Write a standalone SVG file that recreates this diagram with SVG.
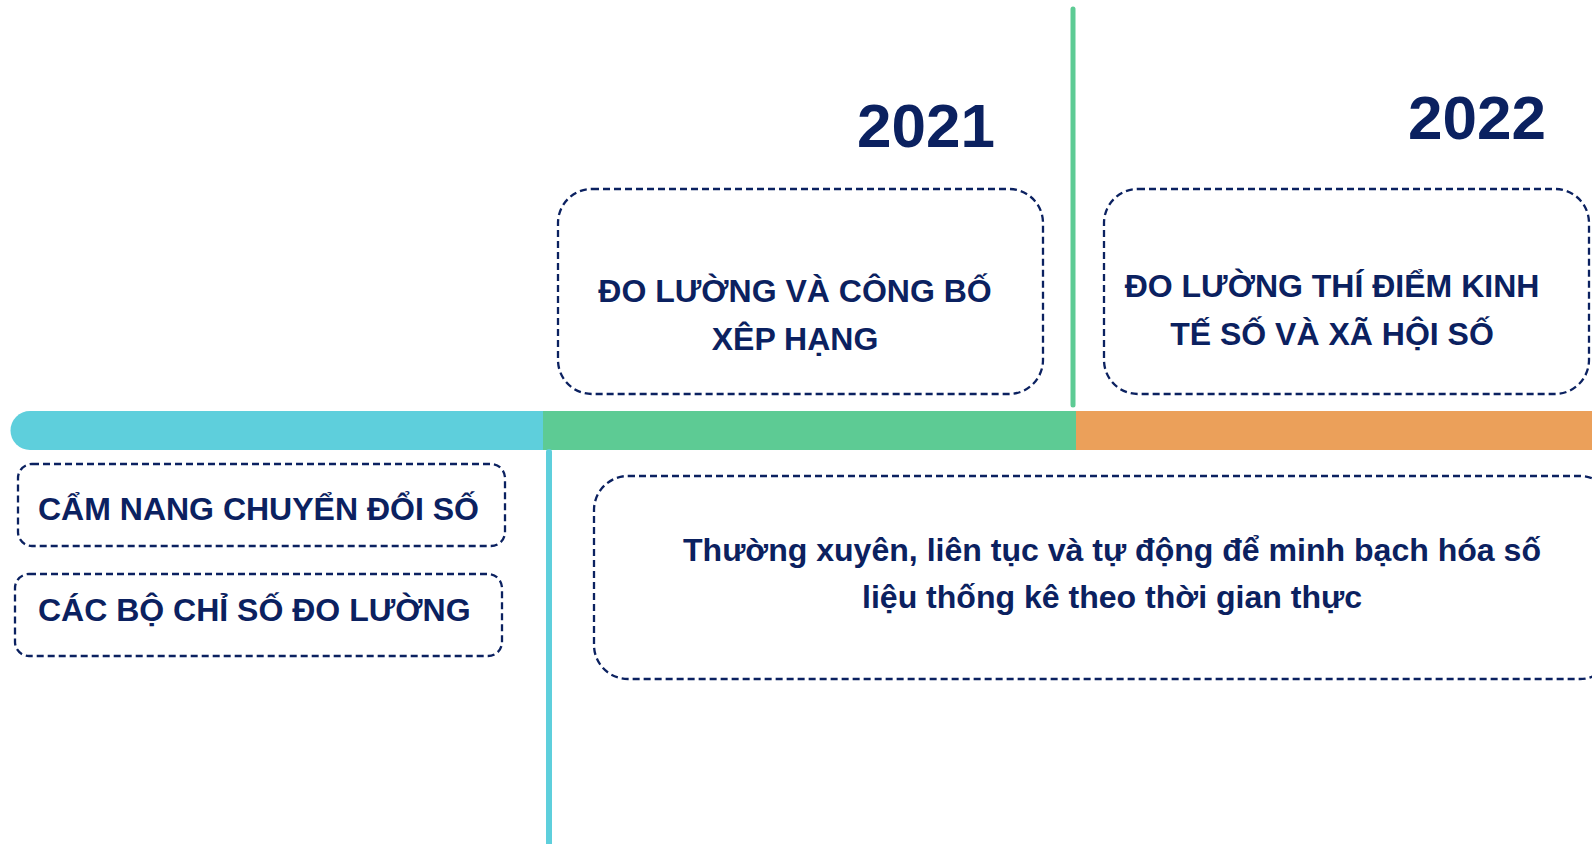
<svg xmlns="http://www.w3.org/2000/svg" width="1592" height="844" viewBox="0 0 1592 844">
<style>
.box{fill:#ffffff;stroke:#0B2160;stroke-width:2.3;stroke-dasharray:7 4}
.t{font-family:"Liberation Sans",Arial,sans-serif;font-weight:bold;fill:#0B2160}
.cap{font-size:32px}
.yr{font-size:62px}
</style>
<rect width="1592" height="844" fill="#ffffff"/>
<g id="connectors">
<path d="M30 411 H543 V450 H30 A19.5 19.5 0 0 1 30 411 Z" fill="#5ECFDC"/>
<rect x="543" y="411" width="533" height="39" fill="#5DCB94"/>
<rect x="1076" y="411" width="516" height="39" fill="#EBA05A"/>
<line x1="549" y1="452" x2="549" y2="846" stroke="#5ECFDC" stroke-width="6" stroke-linecap="round"/>
<line x1="1073" y1="9" x2="1073" y2="405" stroke="#5DCB94" stroke-width="5" stroke-linecap="round"/>
</g>
<g id="year2021"><text class="t yr" x="926" y="147" text-anchor="middle">2021</text></g>
<g id="year2022"><text class="t yr" x="1477" y="139" text-anchor="middle">2022</text></g>
<g id="node-2021">
<rect class="box" x="558" y="189" width="485" height="205" rx="34"/>
<text class="t cap" x="795" y="302" text-anchor="middle">ĐO LƯỜNG VÀ CÔNG BỐ</text>
<text class="t cap" x="795" y="350" text-anchor="middle">XÊP HẠNG</text>
</g>
<g id="node-2022">
<rect class="box" x="1104" y="189" width="485" height="205" rx="34"/>
<text class="t cap" x="1332" y="297" text-anchor="middle">ĐO LƯỜNG THÍ ĐIỂM KINH</text>
<text class="t cap" x="1332" y="345" text-anchor="middle">TẾ SỐ VÀ XÃ HỘI SỐ</text>
</g>
<g id="node-camnang">
<rect class="box" x="18" y="464" width="487" height="82" rx="14"/>
<text class="t cap" x="38" y="520">CẨM NANG CHUYỂN ĐỔI SỐ</text>
</g>
<g id="node-chiso">
<rect class="box" x="15" y="574" width="487" height="82" rx="14"/>
<text class="t cap" x="38" y="621">CÁC BỘ CHỈ SỐ ĐO LƯỜNG</text>
</g>
<g id="node-realtime">
<rect class="box" x="594" y="476" width="1020" height="203" rx="34"/>
<text class="t cap" x="1112" y="561" text-anchor="middle" textLength="858" lengthAdjust="spacingAndGlyphs">Thường xuyên, liên tục và tự động để minh bạch hóa số</text>
<text class="t cap" x="1112" y="608" text-anchor="middle" textLength="500" lengthAdjust="spacingAndGlyphs">liệu thống kê theo thời gian thực</text>
</g>
</svg>
